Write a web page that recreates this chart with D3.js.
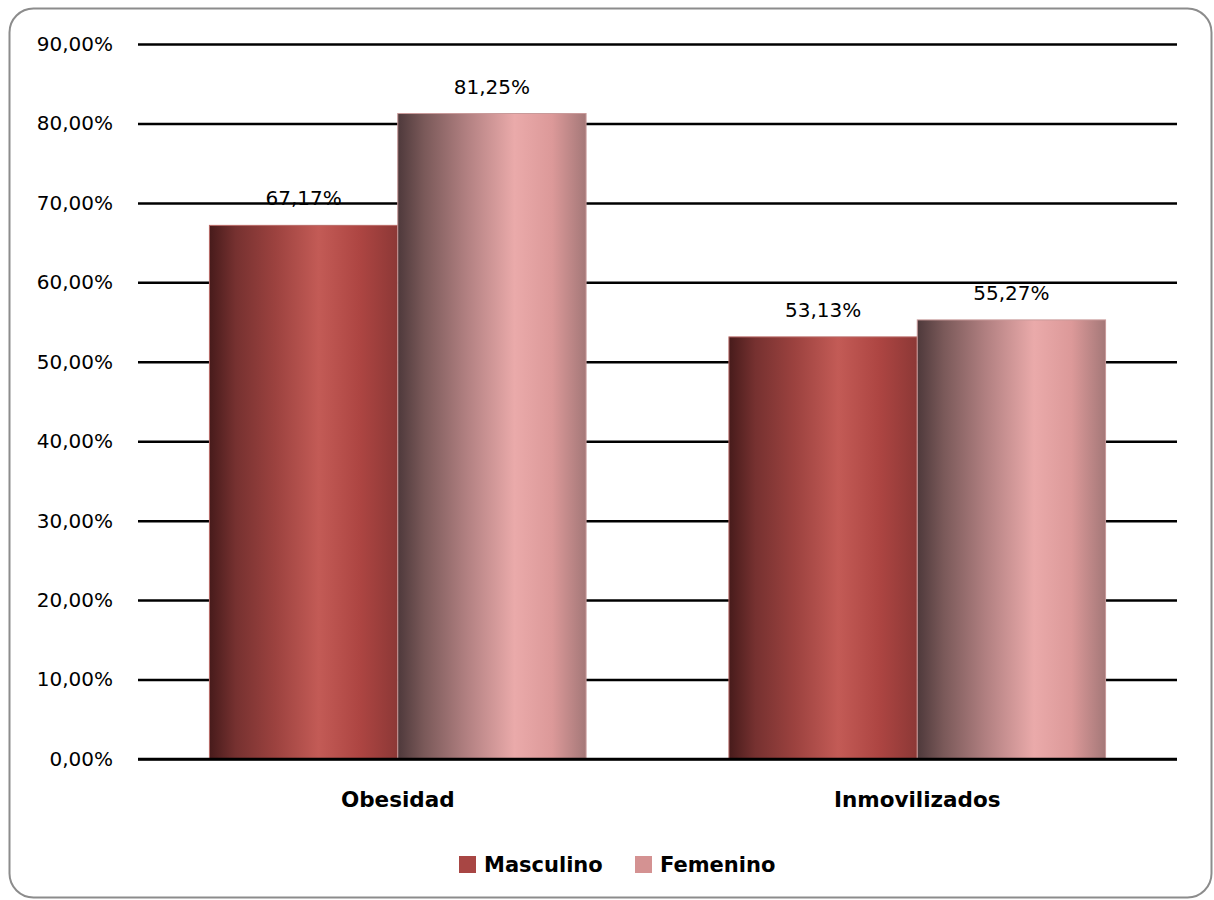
<!DOCTYPE html>
<html>
<head>
<meta charset="utf-8">
<script src="https://cdn.jsdelivr.net/npm/d3@7"></script>
<style>
  html, body { margin: 0; padding: 0; background: #fff; }
  svg { display: block; }
</style>
</head>
<body>
<svg id="chart" width="1214" height="900"></svg>
<script>
// Percentages by category and sex
const categories = ["Obesidad", "Inmovilizados"];
const seriesNames = ["Masculino", "Femenino"];
const masculino = [67.17, 53.13];
const femenino = [81.25, 55.27];
const yTicks = [0, 10, 20, 30, 40, 50, 60, 70, 80, 90];

const W = 1214, H = 900;
const margin = { left: 138, right: 37, top: 44, bottom: 141 };
const svg = d3.select("#chart");

const fmt = v => v.toFixed(2).replace(".", ",") + "%";

// Outer frame
svg.append("rect")
  .attr("x", 9.5).attr("y", 8.5)
  .attr("width", 1202).attr("height", 889)
  .attr("rx", 24).attr("ry", 24)
  .attr("fill", "#fff")
  .attr("stroke", "#8c8c8c").attr("stroke-width", 2);

const x0 = d3.scaleBand()
  .domain(categories)
  .range([margin.left, W - margin.right])
  .paddingInner(0.275).paddingOuter(0.1375);

const x1 = d3.scaleBand()
  .domain(seriesNames)
  .range([0, x0.bandwidth()]);

const y = d3.scaleLinear()
  .domain([0, 90])
  .range([H - margin.bottom, margin.top]);

// Bar shading gradients
const defs = svg.append("defs");
const gradStops = {
  Masculino: [
    [0, "#471b1b"], [0.14, "#763130"], [0.35, "#9c423f"],
    [0.58, "#c35b56"], [0.8, "#ad4542"], [1, "#8c3836"]
  ],
  Femenino: [
    [0, "#4e393b"], [0.14, "#7a5959"], [0.36, "#b07f80"],
    [0.62, "#eaaaaa"], [0.82, "#dc9999"], [1, "#a47878"]
  ]
};
seriesNames.forEach(s => {
  const g = defs.append("linearGradient")
    .attr("id", "grad-" + s)
    .attr("x1", "0%").attr("x2", "100%").attr("y1", "0%").attr("y2", "0%");
  gradStops[s].forEach(([o, c]) => g.append("stop").attr("offset", o).attr("stop-color", c));
});

// Horizontal gridlines and y labels
const yAxis = d3.axisLeft(y)
  .tickValues(yTicks)
  .tickSize(-(W - margin.left - margin.right))
  .tickPadding(25)
  .tickFormat(d => fmt(d));

const gy = svg.append("g")
  .attr("transform", `translate(${margin.left},0)`)
  .call(yAxis);
gy.select(".domain").remove();
gy.selectAll(".tick line").attr("stroke", "#000").attr("stroke-width", 2.5);
gy.selectAll(".tick text")
  .attr("font-family", "'DejaVu Sans', sans-serif")
  .attr("font-size", 20)
  .attr("fill", "#000");

// Bars
const data = categories.map((c, i) => ({
  category: c,
  values: [
    { series: "Masculino", value: masculino[i] },
    { series: "Femenino", value: femenino[i] }
  ]
}));

const groups = svg.append("g").selectAll("g")
  .data(data).join("g")
  .attr("transform", d => `translate(${x0(d.category)},0)`);

groups.selectAll("rect")
  .data(d => d.values).join("rect")
  .attr("x", d => x1(d.series))
  .attr("y", d => y(d.value))
  .attr("width", x1.bandwidth())
  .attr("height", d => y(0) - y(d.value))
  .attr("fill", d => `url(#grad-${d.series})`)
  .attr("stroke", d => d.series === "Masculino" ? "#b86a66" : "#c99a9a")
  .attr("stroke-width", 1);

// Value labels
groups.selectAll("text.val")
  .data(d => d.values).join("text")
  .attr("class", "val")
  .attr("x", d => x1(d.series) + x1.bandwidth() / 2)
  .attr("y", d => y(d.value) - 20)
  .attr("text-anchor", "middle")
  .attr("font-family", "'DejaVu Sans', sans-serif")
  .attr("font-size", 20)
  .attr("fill", "#000")
  .text(d => fmt(d.value));

// Baseline
svg.append("line")
  .attr("x1", margin.left).attr("x2", W - margin.right)
  .attr("y1", y(0)).attr("y2", y(0))
  .attr("stroke", "#000").attr("stroke-width", 2.5);

// Category labels
svg.append("g").selectAll("text")
  .data(categories).join("text")
  .attr("x", d => x0(d) + x0.bandwidth() / 2)
  .attr("y", y(0) + 48)
  .attr("text-anchor", "middle")
  .attr("font-family", "'DejaVu Sans', sans-serif")
  .attr("font-weight", "bold")
  .attr("font-size", 21.5)
  .attr("fill", "#000")
  .text(d => d);

// Legend
const legendColors = { Masculino: "#a84644", Femenino: "#d49292" };
const legendItems = [
  { name: "Masculino", x: 459 },
  { name: "Femenino", x: 635 }
];
const lg = svg.append("g");
legendItems.forEach(it => {
  lg.append("rect")
    .attr("x", it.x).attr("y", 856)
    .attr("width", 17).attr("height", 17)
    .attr("fill", legendColors[it.name]);
  lg.append("text")
    .attr("x", it.x + 25).attr("y", 872)
    .attr("font-family", "'DejaVu Sans', sans-serif")
    .attr("font-weight", "bold")
    .attr("font-size", 21)
    .attr("fill", "#000")
    .text(it.name);
});
</script>
</body>
</html>
